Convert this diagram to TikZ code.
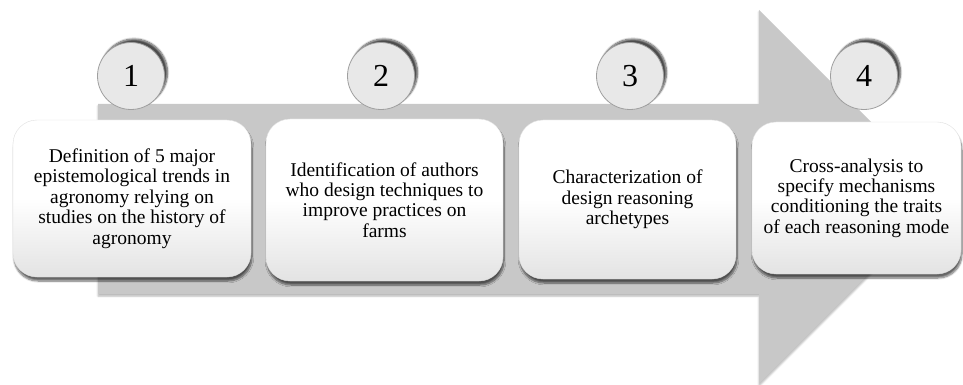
\documentclass[tikz,border=0pt]{standalone}
\usepackage{fontspec}
\setmainfont{Liberation Serif}
\usetikzlibrary{shadows.blur}
\definecolor{arrowgray}{HTML}{C8C8C8}
\definecolor{circfill}{HTML}{E8E8E8}
\begin{document}
\begin{tikzpicture}[x=1pt,y=-1pt,
  stepbox/.style={rectangle, rounded corners=24pt, top color=white, bottom color=gray!22, middle color=white,
    draw=gray!25, line width=0.4pt, align=center, inner sep=2pt,
    font=\fontsize{19.5}{20.4}\selectfont,
    blur shadow={shadow xshift=1pt, shadow yshift=-4pt, shadow blur steps=8, shadow opacity=60}},
  numcirc/.style={circle, minimum size=67pt, inner sep=0pt, fill=circfill, draw=gray!75, line width=0.8pt,
    font=\fontsize{32}{32}\selectfont,
    blur shadow={shadow xshift=3pt, shadow yshift=3.5pt, shadow blur steps=8, shadow opacity=70}},
  bigarrow/.style={fill=arrowgray, blur shadow={shadow xshift=0pt, shadow yshift=-2pt, shadow blur steps=5, shadow opacity=30}}
]
\useasboundingbox (0,0) rectangle (963,385);
% big arrow
\path[bigarrow] (98,104) -- (759,104) -- (759,10) -- (946,197) -- (759,384) -- (759,294) -- (98,294) -- cycle;
% boxes
\node[stepbox, minimum width=238pt, minimum height=157pt] (b1) at (132,198.5)
  {Definition of 5 major\\epistemological trends in\\agronomy relying on\\studies on the history of\\agronomy};
\node[stepbox, minimum width=237pt, minimum height=162pt] (b2) at (384.5,200)
  {Identification of authors\\who design techniques to\\improve practices on\\farms};
\node[stepbox, minimum width=217pt, minimum height=159pt] (b3) at (627.5,199.5)
  {Characterization of\\design reasoning\\archetypes};
\node[stepbox, minimum width=209pt, minimum height=152pt] (b4) at (856.5,198)
  {Cross-analysis to\\specify mechanisms\\conditioning the traits\\of each reasoning mode};
% number circles
\node[numcirc] (c1) at (131,76) {1};
\node[numcirc] (c2) at (381,76) {2};
\node[numcirc] (c3) at (630,76) {3};
\node[numcirc] (c4) at (864,76) {4};
\end{tikzpicture}
\end{document}
